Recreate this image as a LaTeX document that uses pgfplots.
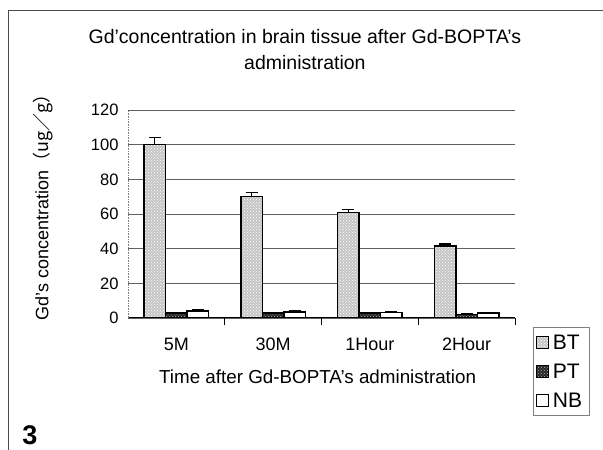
\documentclass[border=0pt]{standalone}
\usepackage{pgfplots}
\pgfplotsset{compat=1.18}
\usepackage{fontspec}
\setmainfont{Liberation Sans}
\newfontfamily\cjk{Noto Sans CJK JP}
\usetikzlibrary{patterns}
\begin{document}
\begin{tikzpicture}[x=1pt,y=1pt]
\path[use as bounding box] (0,0) rectangle (603,450);
\draw[gray!60!black, line width=1pt] (8,0) -- (8,439) -- (603,439);
\node[font=\fontsize{27}{29}\selectfont\bfseries] at (30,15) {3};
\begin{axis}[
  at={(128pt,132pt)}, anchor=south west,
  scale only axis, width=387pt, height=208pt,
  ybar=0pt, bar width=21.5pt,
  xmin=-0.5, xmax=3.5, ymin=0, ymax=120,
  ytick={0,20,...,120},
  ymajorgrids, grid style={gray!75!black, line width=0.8pt},
  axis lines*=left,
  x axis line style={-, black, line width=1pt},
  y axis line style={-, gray, densely dotted, line width=0.6pt},
  ytick style={draw=none},
  xtick={0.5,1.5,2.5,3.5}, xticklabels={},
  xtick style={black, line width=0.8pt},
  major tick length=7pt,
  extra x ticks={0,1,2,3},
  extra x tick labels={5M,30M,1Hour,2Hour},
  extra x tick style={major tick length=0pt, tick label style={anchor=base, yshift=-33pt, font=\fontsize{18}{20}\selectfont}},
  /pgf/number format/assume math mode=true,
  tick label style={font=\fontsize{16.5}{19}\selectfont},
  yticklabel style={xshift=-6pt},
  title={Gd'concentration in brain tissue after Gd-BOPTA's\\administration},
  title style={at={(rel axis cs:0.457,1.262)}, anchor=center, align=center, font=\fontsize{19.5}{26}\selectfont},
  xlabel={Time after Gd-BOPTA's administration},
  xlabel style={at={(rel axis cs:0.49,-0.284)}, anchor=center, font=\fontsize{18.8}{20}\selectfont},
  ylabel={Gd's concentration{\cjk （ug／g）}},
  ylabel style={at={(rel axis cs:-0.22,0.555)}, anchor=center, font=\fontsize{18}{20}\selectfont},
  legend style={at={(rel axis cs:1.0465,-0.045)}, anchor=north west, draw=gray, line width=0.6pt,
    font=\fontsize{21}{22}\selectfont, row sep=9pt, inner ysep=5pt, inner xsep=3pt,
    nodes={inner xsep=4pt}},
  legend cell align=left,
  legend image code/.code={\draw[#1, line width=0.6pt] (1pt,-6pt) rectangle (13pt,6pt);},
  error bars/y dir=plus, error bars/y explicit,
  error bars/error mark options={rotate=90, mark size=6pt, line width=1.2pt},
  error bars/error bar style={line width=1.2pt},
]
\addplot[draw=black, line width=1.5pt, fill=gray!45, postaction={pattern=crosshatch dots, pattern color=white}]
  coordinates {(0,100) +- (0,4) (1,70) +- (0,2.5) (2,61) +- (0,1.8) (3,41.5) +- (0,1.2)};
\addplot[draw=black, line width=1.5pt, fill=black!85, postaction={pattern=crosshatch dots, pattern color=gray!60}]
  coordinates {(0,3) +- (0,0.4) (1,3) +- (0,0.3) (2,2.8) +- (0,0.3) (3,2) +- (0,0.3)};
\addplot[draw=black, line width=1.5pt, fill=white]
  coordinates {(0,4) +- (0,0.6) (1,3.5) +- (0,0.5) (2,3.2) +- (0,0.3) (3,3) +- (0,0.4)};
\legend{BT,PT,NB}
\end{axis}
\end{tikzpicture}
\end{document}
